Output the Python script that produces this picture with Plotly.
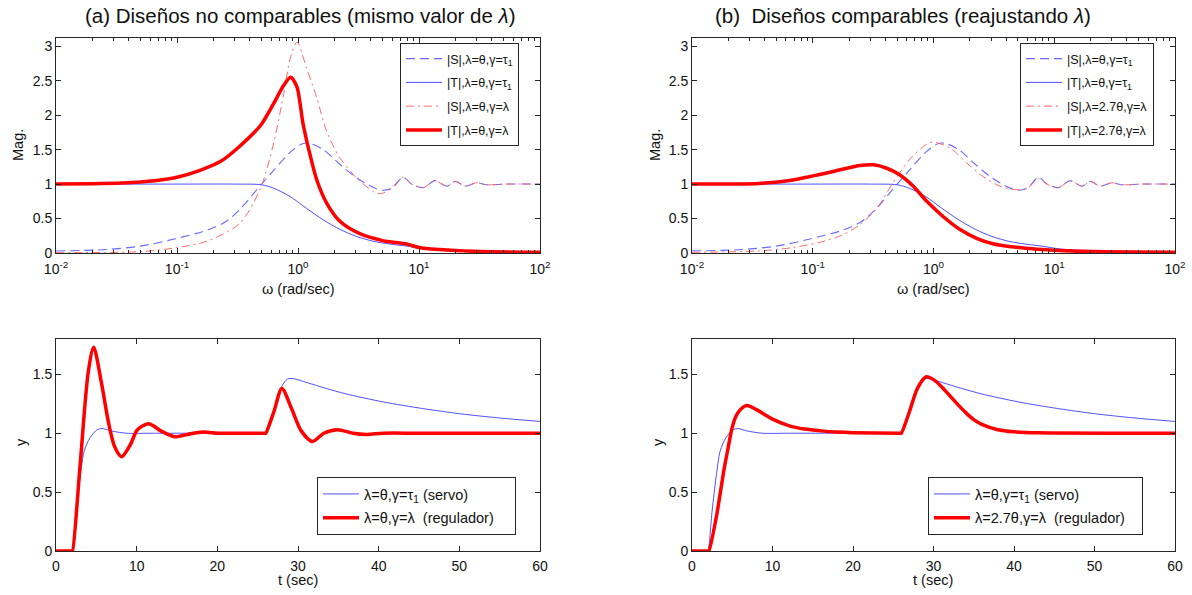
import plotly.graph_objects as go

# ---------------- frequency-domain data (omega in rad/sec, magnitude) ----------------
# |S|, lambda=theta, gamma=tau1  (same curve in both top plots)
w_s_servo = [0.01, 0.026, 0.05, 0.093, 0.176, 0.25, 0.33, 0.5, 0.63, 0.86, 1.1, 1.26, 1.62,
             2.24, 3.05, 4.2, 5.0, 6.0, 7.4, 8.7, 10.9, 13.5, 17, 20, 24, 30, 36, 52, 100]
s_servo = [0.03, 0.05, 0.10, 0.20, 0.33, 0.45, 0.63, 1.0, 1.2, 1.46, 1.59, 1.59, 1.5,
           1.28, 1.09, 0.95, 0.91, 0.94, 1.1, 1.0, 0.95, 1.05, 0.97, 1.04, 0.97, 1.02, 0.99, 1.0, 1.0]

# |T|, lambda=theta, gamma=tau1
w_t_servo = [0.01, 0.1, 0.3, 0.5, 0.63, 0.86, 1.17, 1.62, 2.24, 3.05, 4.2, 5.75, 7.9, 11, 20, 40, 100]
t_servo = [1.0, 1.0, 1.0, 0.99, 0.94, 0.82, 0.65, 0.48, 0.34, 0.24, 0.17, 0.13, 0.10, 0.06, 0.03, 0.015, 0.01]

# (a) |S|, lambda=theta, gamma=lambda
w_s_reg_a = [0.01, 0.05, 0.093, 0.176, 0.33, 0.49, 0.63, 0.76, 0.87, 0.98, 1.17, 1.43, 1.73,
             2.22, 3.05, 4.2, 4.8, 5.75, 7.4, 8.7, 10.9, 13.5, 17, 20, 24, 30, 36, 52, 100]
s_reg_a = [0.005, 0.02, 0.07, 0.17, 0.43, 0.94, 1.6, 2.3, 2.85, 3.06, 2.7, 2.25, 1.76,
           1.38, 1.09, 0.89, 0.86, 0.92, 1.1, 1.0, 0.95, 1.05, 0.97, 1.04, 0.97, 1.02, 0.99, 1.0, 1.0]

# (a) |T|, lambda=theta, gamma=lambda
w_t_reg_a = [0.01, 0.02, 0.035, 0.05, 0.07, 0.1, 0.155, 0.23, 0.33, 0.49, 0.63, 0.76, 0.87, 0.98,
             1.04, 1.1, 1.26, 1.43, 1.73, 2.22, 3.24, 5.0, 7.9, 10, 14.8, 28, 100]
t_reg_a = [1.0, 1.005, 1.015, 1.03, 1.055, 1.1, 1.2, 1.33, 1.55, 1.85, 2.17, 2.43, 2.55, 2.41,
           2.17, 1.88, 1.42, 1.06, 0.72, 0.46, 0.28, 0.18, 0.13, 0.08, 0.05, 0.025, 0.01]

# (b) |S|, lambda=2.7theta, gamma=lambda
w_s_reg_b = [0.01, 0.036, 0.069, 0.13, 0.18, 0.245, 0.34, 0.47, 0.65, 0.88, 1.0, 1.38, 1.9,
             2.57, 3.55, 4.6, 6.0, 7.4, 8.7, 10.9, 13.5, 17, 20, 24, 30, 36, 52, 100]
s_reg_b = [0.01, 0.03, 0.08, 0.18, 0.27, 0.41, 0.65, 1.04, 1.38, 1.58, 1.61, 1.52, 1.3,
           1.11, 0.97, 0.92, 0.94, 1.08, 1.0, 0.95, 1.05, 0.97, 1.04, 0.97, 1.02, 0.99, 1.0, 1.0]

# (b) |T|, lambda=2.7theta, gamma=lambda
w_t_reg_b = [0.01, 0.036, 0.069, 0.095, 0.13, 0.18, 0.245, 0.32, 0.41, 0.52, 0.68, 0.88, 1.2,
             1.66, 2.3, 3.16, 4.4, 5.9, 11, 21, 100]
t_reg_b = [1.0, 1.01, 1.06, 1.11, 1.16, 1.22, 1.27, 1.28, 1.23, 1.14, 0.97, 0.75, 0.53,
           0.34, 0.21, 0.13, 0.09, 0.07, 0.035, 0.02, 0.01]

# ---------------- time-domain data ----------------
t_servo_y = [0, 1.95, 2, 2.5, 3, 3.5, 4.2, 5.1, 5.7, 6.8, 8.7, 12, 20, 25.9, 26, 27, 28, 28.7, 29.3,
             31.1, 33.5, 35.9, 40.6, 45.4, 50.1, 54.9, 60]
y_servo = [0, 0, 0, 0.34, 0.63, 0.85, 0.96, 1.03, 1.04, 1.02, 1.0, 1.0, 1.0, 1.0, 1.0, 1.2, 1.4,
           1.46, 1.465, 1.43, 1.38, 1.335, 1.265, 1.21, 1.165, 1.13, 1.1]

t_reg_a_y = [0, 2.0, 2.05, 3, 4, 4.67, 5.6, 6.57, 7.3, 8.14, 9.2, 10.1, 11.5, 13, 14.7, 16.3, 18.2,
             20.1, 22, 25.9, 26, 27, 28, 29.2, 30.4, 31.8, 33.2, 34.9, 36.8, 38.5, 40.6, 45, 60]
y_reg_a = [0, 0, 0, 0.74, 1.52, 1.73, 1.44, 1.07, 0.88, 0.80, 0.90, 1.03, 1.08, 1.02, 0.97, 0.99,
           1.01, 1.0, 1.0, 1.0, 1.0, 1.18, 1.38, 1.21, 1.02, 0.93, 1.0, 1.03, 1.0, 0.99, 1.0, 1.0, 1.0]

t_reg_b_y = [0, 2.05, 2.1, 3, 4, 4.5, 5, 5.5, 6, 6.8, 8, 10, 12, 14, 16, 18, 20, 25.9, 26, 27, 28,
             29.1, 30, 31, 32, 33, 34, 35, 36, 38, 40, 43, 60]
y_reg_b = [0, 0, 0, 0.28, 0.70, 0.88, 1.05, 1.15, 1.2, 1.235, 1.2, 1.12, 1.065, 1.035, 1.02, 1.01,
           1.005, 1.0, 1.0, 1.18, 1.38, 1.48, 1.455, 1.395, 1.32, 1.245, 1.175, 1.115, 1.075, 1.03,
           1.012, 1.003, 1.0]

# ---------------- labels ----------------
title_a = "(a) Diseños no comparables (mismo valor de <i>λ</i>)"
title_b = "(b)&nbsp; Diseños comparables (reajustando <i>λ</i>)"
leg_s_servo = "|S|,λ=θ,γ=τ<sub>1</sub>"
leg_t_servo = "|T|,λ=θ,γ=τ<sub>1</sub>"
leg_s_a = "|S|,λ=θ,γ=λ"
leg_t_a = "|T|,λ=θ,γ=λ"
leg_s_b = "|S|,λ=2.7θ,γ=λ"
leg_t_b = "|T|,λ=2.7θ,γ=λ"
leg_servo = "λ=θ,γ=τ<sub>1</sub> (servo)"
leg_reg_a = "λ=θ,γ=λ&nbsp; (regulador)&nbsp;&nbsp;&nbsp;&nbsp;"
leg_reg_b = "λ=2.7θ,γ=λ&nbsp; (regulador)&nbsp;&nbsp;&nbsp;"
xlab_w = "ω (rad/sec)"
xlab_t = "t (sec)"
ylab_mag = "Mag."
ylab_y = "y"
log_tickvals = [0.01, 0.1, 1, 10, 100]
log_ticktext = ["10<sup>-2</sup>", "10<sup>-1</sup>", "10<sup>0</sup>", "10<sup>1</sup>", "10<sup>2</sup>"]

FONT = "Liberation Sans, Arial, Helvetica, sans-serif"
W, H = 1192, 595
BLUE = "#3c3cff"
BLUE_D = "#6a6aff"
RED = "#ff0000"
RED_L = "#ff6a6a"
TXT = "#111111"


def xd(a, b):
    return [a / W, b / W]


def yd(top, bottom):
    return [1 - bottom / H, 1 - top / H]


fig = go.Figure()
_cnt = [0]


def add(x, y, name, ax, leg, color, width, dash="solid"):
    _cnt[0] += 1
    fig.add_trace(go.Scatter(
        x=x, y=y, name=name, mode="lines",
        line=dict(color=color, width=width, dash=dash, shape="spline", smoothing=0.8),
        xaxis="x" + ax, yaxis="y" + ax, legend=leg, showlegend=True,
        legendgroup="g%d" % _cnt[0],
    ))


DASH = "9px,5px"
DASHDOT = "8px,4px,2px,4px"

# top-left
add(w_s_servo, s_servo, leg_s_servo, "", "legend", BLUE_D, 1.1, DASH)
add(w_t_servo, t_servo, leg_t_servo, "", "legend", BLUE, 0.9)
add(w_s_reg_a, s_reg_a, leg_s_a, "", "legend", RED_L, 1.0, DASHDOT)
add(w_t_reg_a, t_reg_a, leg_t_a, "", "legend", RED, 3.5)
# top-right
add(w_s_servo, s_servo, leg_s_servo, "2", "legend2", BLUE_D, 1.1, DASH)
add(w_t_servo, t_servo, leg_t_servo, "2", "legend2", BLUE, 0.9)
add(w_s_reg_b, s_reg_b, leg_s_b, "2", "legend2", RED_L, 1.0, DASHDOT)
add(w_t_reg_b, t_reg_b, leg_t_b, "2", "legend2", RED, 3.5)
# bottom-left
add(t_servo_y, y_servo, leg_servo, "3", "legend3", BLUE, 0.9)
add(t_reg_a_y, y_reg_a, leg_reg_a, "3", "legend3", RED, 3.5)
# bottom-right
add(t_servo_y, y_servo, leg_servo, "4", "legend4", BLUE, 0.9)
add(t_reg_b_y, y_reg_b, leg_reg_b, "4", "legend4", RED, 3.5)

axcommon = dict(showline=True, linecolor="#262626", linewidth=1, mirror="ticks",
                ticks="inside", ticklen=5, tickcolor="#262626", showgrid=False, zeroline=False,
                automargin=False, tickfont=dict(family=FONT, size=14, color=TXT))

log_minor = []
for e in range(-2, 2):
    for m in range(2, 10):
        log_minor.append(m * 10 ** e)


def logx(dom, anchor):
    return dict(axcommon, type="log", range=[-2, 2], domain=dom, anchor=anchor,
                tickvals=log_tickvals, ticktext=log_ticktext, ticklabelstandoff=3,
                minor=dict(tickvals=log_minor, ticks="inside", ticklen=3, tickcolor="#262626"))


def linx(dom, anchor):
    return dict(axcommon, range=[0, 60], domain=dom, anchor=anchor, tickvals=[0, 10, 20, 30, 40, 50, 60],
                ticklabelstandoff=2)


def magy(dom, anchor):
    return dict(axcommon, range=[0, 3.12], domain=dom, anchor=anchor,
                tickvals=[0, 0.5, 1, 1.5, 2, 2.5, 3], ticktext=["0", "0.5", "1", "1.5", "2", "2.5", "3"])


def yy(dom, anchor):
    return dict(axcommon, range=[0, 1.8], domain=dom, anchor=anchor,
                tickvals=[0, 0.5, 1, 1.5], ticktext=["0", "0.5", "1", "1.5"])


XL = xd(56, 540)
XR = xd(692, 1175)
YT = yd(38, 253)
YB = yd(339, 551)

legcommon = dict(bgcolor="white", bordercolor="#262626", borderwidth=1,
                 xanchor="left", yanchor="top", traceorder="grouped", itemwidth=36)


def ann(text, x, y, size, angle=0):
    return dict(text=text, x=x / W, y=1 - y / H, xref="paper", yref="paper", showarrow=False,
                font=dict(family=FONT, size=size, color=TXT), xanchor="center", yanchor="middle",
                textangle=angle)


fig.update_layout(
    width=W, height=H, margin=dict(l=0, r=0, t=0, b=0, autoexpand=False),
    paper_bgcolor="white", plot_bgcolor="white",
    xaxis=logx(XL, "y"), yaxis=magy(YT, "x"),
    xaxis2=logx(XR, "y2"), yaxis2=magy(YT, "x2"),
    xaxis3=linx(XL, "y3"), yaxis3=yy(YB, "x3"),
    xaxis4=linx(XR, "y4"), yaxis4=yy(YB, "x4"),
    legend=dict(legcommon, x=400 / W, y=1 - 43 / H, tracegroupgap=4.5,
                font=dict(family=FONT, size=12.5, color=TXT)),
    legend2=dict(legcommon, x=1020 / W, y=1 - 43 / H, tracegroupgap=4.5,
                 font=dict(family=FONT, size=12.5, color=TXT)),
    legend3=dict(legcommon, x=317 / W, y=1 - 477 / H, tracegroupgap=2,
                 font=dict(family=FONT, size=14.5, color=TXT)),
    legend4=dict(legcommon, x=928 / W, y=1 - 477 / H, tracegroupgap=2,
                 font=dict(family=FONT, size=14.5, color=TXT)),
    showlegend=True,
    annotations=[
        ann(title_a, 300, 15, 20.5),
        ann(title_b, 903, 15, 20.5),
        ann(xlab_w, 298, 289, 14.5),
        ann(xlab_w, 933, 289, 14.5),
        ann(xlab_t, 298, 580, 14.5),
        ann(xlab_t, 933, 580, 14.5),
        ann(ylab_mag, 18, 145, 14.5, -90),
        ann(ylab_mag, 655, 145, 14.5, -90),
        ann(ylab_y, 21, 442, 14.5, -90),
        ann(ylab_y, 658, 442, 14.5, -90),
    ],
)

fig.write_html("out.html")
